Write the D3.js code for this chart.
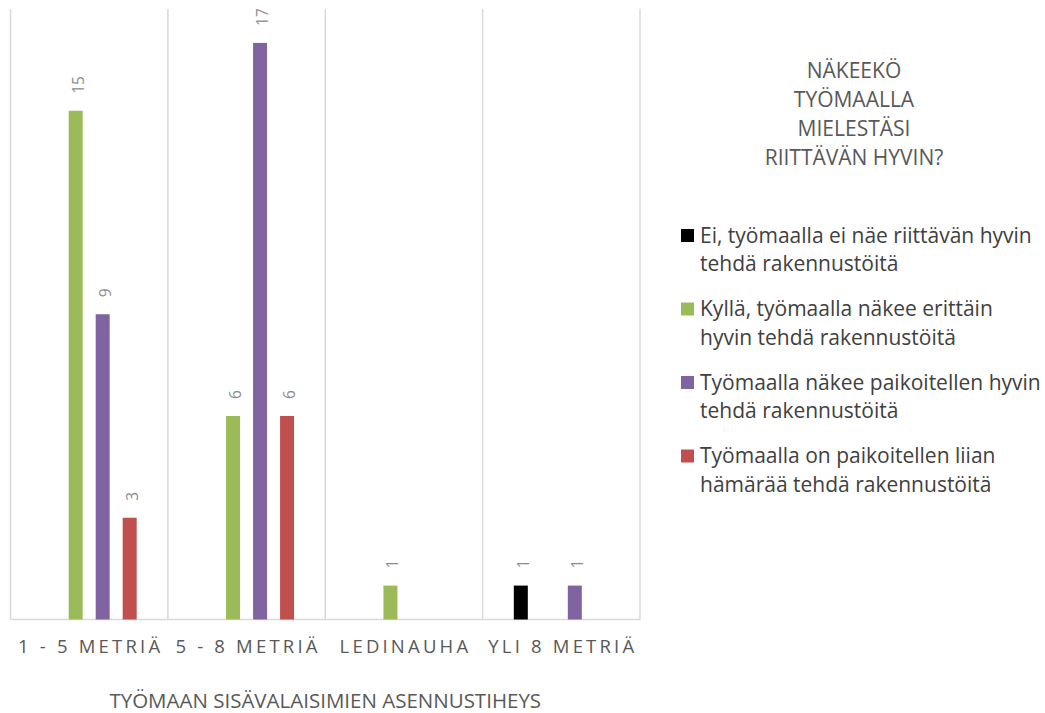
<!DOCTYPE html>
<html><head><meta charset="utf-8">
<script src="https://cdn.jsdelivr.net/npm/d3@7"></script>
<style>body{margin:0;background:#fff}svg{display:block}</style>
</head><body><svg id="c" width="1045" height="713"></svg>
<script>
const categories = ["1 - 5 METRIÄ", "5 - 8 METRIÄ", "LEDINAUHA", "YLI 8 METRIÄ"];
const seriesNames = [
  "Ei, työmaalla ei näe riittävän hyvin tehdä rakennustöitä",
  "Kyllä, työmaalla näkee erittäin hyvin tehdä rakennustöitä",
  "Työmaalla näkee paikoitellen hyvin tehdä rakennustöitä",
  "Työmaalla on paikoitellen liian hämärää tehdä rakennustöitä"
];
const legendLines = [
  ["Ei, työmaalla ei näe riittävän hyvin", "tehdä rakennustöitä"],
  ["Kyllä, työmaalla näkee erittäin", "hyvin tehdä rakennustöitä"],
  ["Työmaalla näkee paikoitellen hyvin", "tehdä rakennustöitä"],
  ["Työmaalla on paikoitellen liian", "hämärää tehdä rakennustöitä"]
];
const colors = ["#000000", "#9BBB59", "#8064A2", "#C0504D"];
const eiValues = [0, 0, 0, 1];
const kyllaValues = [15, 6, 1, 0];
const paikoitellenValues = [9, 17, 0, 1];
const hamaraaValues = [3, 6, 0, 0];
const seriesValues = [eiValues, kyllaValues, paikoitellenValues, hamaraaValues];
const titleLines = ["NÄKEEKÖ", "TYÖMAALLA", "MIELESTÄSI", "RIITTÄVÄN HYVIN?"];
const axisTitle = "TYÖMAAN SISÄVALAISIMIEN ASENNUSTIHEYS";
const yMax = 18;

(function(){
const svg = d3.select("#c");
const pL = 10.5, pR = 640, pT = 9, pB = 619.5;
const x0 = d3.scaleBand().domain(categories).range([pL, pR]).padding(0);
const bw = x0.bandwidth();
const inner = 13/27;
const span = 27 * (4 - inner);
const x1 = d3.scaleBand().domain(d3.range(4)).range([(bw - span)/2, (bw + span)/2]).paddingInner(inner).paddingOuter(0);
const y = d3.scaleLinear().domain([0, yMax]).range([pB, pT]);
const font = "'Open Sans', sans-serif";

const seps = categories.map(c => x0(c)).concat([pR]);
svg.append("g").selectAll("line").data(seps).join("line")
  .attr("x1", d => d).attr("x2", d => d).attr("y1", pT).attr("y2", pB)
  .attr("stroke", "#d9d9d9").attr("stroke-width", 1.5);
svg.append("line").attr("x1", pL).attr("x2", pR).attr("y1", pB).attr("y2", pB)
  .attr("stroke", "#d9d9d9").attr("stroke-width", 1.5);

const data = [];
categories.forEach((c, ci) => seriesValues.forEach((vals, si) => {
  if (vals[ci] > 0) data.push({c, si, v: vals[ci]});
}));

svg.append("g").selectAll("rect").data(data).join("rect")
  .attr("x", d => x0(d.c) + x1(d.si))
  .attr("width", x1.bandwidth())
  .attr("y", d => y(d.v))
  .attr("height", d => y(0) - y(d.v))
  .attr("fill", d => colors[d.si]);

svg.append("g").selectAll("text").data(data).join("text")
  .attr("transform", d => `translate(${x0(d.c) + x1(d.si) + x1.bandwidth()/2 + 8},${y(d.v) - 17}) rotate(-90)`)
  .attr("font-family", font).attr("font-size", 15.5).attr("fill", "#8c8c8c")
  .text(d => d.v);

svg.append("g").selectAll("text").data(categories).join("text")
  .attr("x", d => x0(d) + bw/2 + 1.5)
  .attr("y", 653)
  .attr("text-anchor", "middle")
  .attr("font-family", font).attr("font-size", 18.5).attr("letter-spacing", "3.2px")
  .attr("fill", "#595959")
  .text(d => d);

svg.append("text").attr("x", (pL+pR)/2).attr("y", 708)
  .attr("text-anchor", "middle").attr("font-family", font).attr("font-size", 20.5)
  .attr("fill", "#595959").text(axisTitle);

svg.append("g").selectAll("text").data(titleLines).join("text")
  .attr("x", 854).attr("y", (d, i) => 77.5 + i*29)
  .attr("text-anchor", "middle").attr("font-family", font).attr("font-size", 21)
  .attr("fill", "#595959").text(d => d);

const lg = svg.append("g").selectAll("g").data(seriesNames).join("g")
  .attr("transform", (d, i) => `translate(681,${229 + i*73.5})`);
lg.append("rect").attr("width", 13).attr("height", 13).attr("fill", (d, i) => colors[i]);
lg.each(function(d, i) {
  d3.select(this).selectAll("text").data(legendLines[i]).join("text")
    .attr("x", 19).attr("y", (t, j) => 13.5 + j*28.5)
    .attr("font-family", font).attr("font-size", 21)
    .attr("fill", "#404040").text(t => t);
});
})();
</script></body></html>
